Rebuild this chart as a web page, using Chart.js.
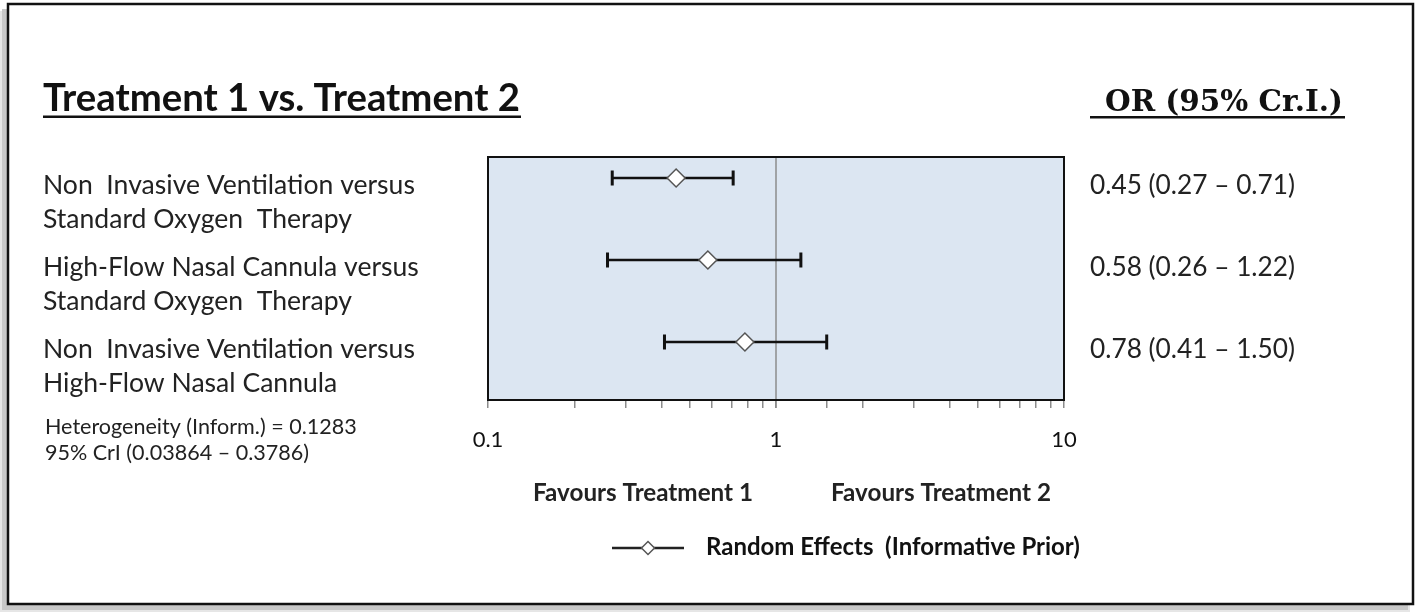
<!DOCTYPE html>
<html lang="en">

<head>
    <meta charset="UTF-8">
    <title>Forest Plot - Treatment 1 vs. Treatment 2</title>
    <style>
        html, body { margin: 0; padding: 0; background: #ffffff; }
        #wrap { width: 1418px; height: 615px; position: relative; }
    </style>
</head>

<body>
    <div id="wrap">
        <canvas id="myChart" width="1418" height="615"></canvas>
    </div>

    <script src="https://cdn.jsdelivr.net/npm/chart.js"></script>

    <script>
        // Data
        const comparisons = [
            ['Non  Invasive Ventilation versus', 'Standard Oxygen  Therapy'],
            ['High-Flow Nasal Cannula versus', 'Standard Oxygen  Therapy'],
            ['Non  Invasive Ventilation versus', 'High-Flow Nasal Cannula']
        ];
        const oddsRatio = [0.45, 0.58, 0.78];
        const lowerCrI = [0.27, 0.26, 0.41];
        const upperCrI = [0.71, 1.22, 1.50];
        const xTickLabels = [0.1, 1, 10];
        const seriesName = 'Random Effects  (Informative Prior)';
        const heterogeneity = ['Heterogeneity (Inform.) = 0.1283', '95% CrI (0.03864 \u2013 0.3786)'];

        const SANS = 'Lato, "Open Sans", sans-serif';
        const SERIF = '"DejaVu Serif", "Liberation Serif", serif';

        // set font size so that text spans the given width
        function fitFont(ctx, text, width, weight, family) {
            ctx.font = weight + ' 100px ' + family;
            const size = 100 * width / ctx.measureText(text).width;
            ctx.font = weight + ' ' + size.toFixed(2) + 'px ' + family;
            return size;
        }

        function orLabel(i) {
            return oddsRatio[i].toFixed(2) + ' (' + lowerCrI[i].toFixed(2) + ' \u2013 ' + upperCrI[i].toFixed(2) + ')';
        }

        // frame, plot background, error bars, texts
        const forestPlugin = {
            id: 'forest',
            beforeDraw(chart) {
                const ctx = chart.ctx;
                const a = chart.chartArea;
                ctx.save();
                ctx.fillStyle = '#ffffff';
                ctx.fillRect(0, 0, chart.width, chart.height);
                // shadow of the outer frame
                ctx.fillStyle = '#e6e6e6';
                ctx.fillRect(0, 11, 1410, 601);
                ctx.fillStyle = '#c8c8c8';
                ctx.fillRect(2, 9, 1406, 601);
                ctx.fillStyle = '#ffffff';
                ctx.fillRect(8, 4, 1405, 600);
                ctx.strokeStyle = '#111';
                ctx.lineWidth = 2.5;
                ctx.strokeRect(8, 4, 1405, 600);
                // plot background
                ctx.fillStyle = '#dce6f2';
                ctx.fillRect(a.left, a.top, a.right - a.left, a.bottom - a.top);
                ctx.restore();
            },
            beforeDatasetsDraw(chart) {
                const ctx = chart.ctx;
                const a = chart.chartArea;
                const xs = chart.scales.x;
                const ys = chart.scales.y;
                ctx.save();
                // line of no effect
                ctx.strokeStyle = '#8c8c8c';
                ctx.lineWidth = 1.5;
                const x1 = xs.getPixelForValue(1);
                ctx.beginPath();
                ctx.moveTo(x1, a.top);
                ctx.lineTo(x1, a.bottom + 8);
                ctx.stroke();
                // credible intervals
                ctx.strokeStyle = '#111';
                oddsRatio.forEach((v, i) => {
                    const y = ys.getPixelForValue(i);
                    const xl = xs.getPixelForValue(lowerCrI[i]);
                    const xr = xs.getPixelForValue(upperCrI[i]);
                    ctx.lineWidth = 2.5;
                    ctx.beginPath();
                    ctx.moveTo(xl, y);
                    ctx.lineTo(xr, y);
                    ctx.stroke();
                    ctx.lineWidth = 3;
                    ctx.beginPath();
                    ctx.moveTo(xl, y - 7.5);
                    ctx.lineTo(xl, y + 7.5);
                    ctx.moveTo(xr, y - 7.5);
                    ctx.lineTo(xr, y + 7.5);
                    ctx.stroke();
                });
                ctx.restore();
            },
            afterDraw(chart) {
                const ctx = chart.ctx;
                const a = chart.chartArea;
                const ys = chart.scales.y;
                ctx.save();
                // plot border
                ctx.strokeStyle = '#111';
                ctx.lineWidth = 2;
                ctx.strokeRect(a.left, a.top, a.right - a.left, a.bottom - a.top);

                ctx.fillStyle = '#111';
                ctx.textBaseline = 'alphabetic';
                ctx.textAlign = 'left';

                // title + header
                fitFont(ctx, 'Treatment 1 vs. Treatment 2', 477, 'bold', SANS);
                ctx.fillText('Treatment 1 vs. Treatment 2', 43, 111);
                ctx.fillRect(43, 115.5, 478, 2.5);
                fitFont(ctx, 'OR (95% Cr.I.)', 238, 'bold', SERIF);
                ctx.fillText('OR (95% Cr.I.)', 1105, 111);
                ctx.fillRect(1090, 116, 255, 2.5);

                // row labels
                ctx.fillStyle = '#222';
                fitFont(ctx, comparisons[0][0], 372, 'normal', SANS);
                comparisons.forEach((lines, i) => {
                    const y = ys.getPixelForValue(i);
                    ctx.fillText(lines[0], 43, y + 16);
                    ctx.fillText(lines[1], 43, y + 50);
                });
                fitFont(ctx, orLabel(0), 205, 'normal', SANS);
                oddsRatio.forEach((v, i) => {
                    ctx.fillText(orLabel(i), 1090, ys.getPixelForValue(i) + 16);
                });

                // heterogeneity
                fitFont(ctx, heterogeneity[0], 312, 'normal', SANS);
                ctx.fillText(heterogeneity[0], 45, 434);
                ctx.fillText(heterogeneity[1], 45, 460);

                // favours labels
                ctx.textAlign = 'center';
                fitFont(ctx, 'Favours Treatment 1', 220, 'bold', SANS);
                ctx.fillText('Favours Treatment 1', 643, 501);
                ctx.fillText('Favours Treatment 2', 941, 501);

                // legend
                const ly = 548;
                ctx.strokeStyle = '#222';
                ctx.lineWidth = 2.5;
                ctx.beginPath();
                ctx.moveTo(612, ly);
                ctx.lineTo(684, ly);
                ctx.stroke();
                ctx.fillStyle = '#fff';
                ctx.strokeStyle = '#555';
                ctx.lineWidth = 1.5;
                ctx.beginPath();
                ctx.moveTo(648, ly - 6.5);
                ctx.lineTo(654.5, ly);
                ctx.lineTo(648, ly + 6.5);
                ctx.lineTo(641.5, ly);
                ctx.closePath();
                ctx.fill();
                ctx.stroke();
                ctx.fillStyle = '#111';
                ctx.textAlign = 'left';
                fitFont(ctx, seriesName, 374, 'bold', SANS);
                ctx.fillText(seriesName, 706, 555);
                ctx.restore();
            }
        };

        const ctx = document.getElementById('myChart').getContext('2d');
        const myChart = new Chart(ctx, {
            type: 'scatter',
            data: {
                datasets: [{
                    label: seriesName,
                    data: oddsRatio.map((v, i) => ({ x: v, y: i })),
                    pointStyle: 'rectRot',
                    pointRadius: 9,
                    pointHoverRadius: 9,
                    backgroundColor: '#ffffff',
                    borderColor: '#555555',
                    borderWidth: 1.5
                }]
            },
            options: {
                responsive: false,
                animation: false,
                layout: {
                    padding: { left: 488, right: 354, top: 157, bottom: 145 }
                },
                plugins: {
                    legend: { display: false },
                    tooltip: { enabled: false }
                },
                scales: {
                    x: {
                        type: 'logarithmic',
                        min: 0.1,
                        max: 10,
                        afterFit: s => { s.height = 70; },
                        border: { display: false },
                        grid: {
                            drawOnChartArea: false,
                            drawTicks: true,
                            tickLength: 8,
                            color: '#8c8c8c',
                            lineWidth: 1.5
                        },
                        ticks: {
                            autoSkip: false,
                            maxRotation: 0,
                            padding: 19,
                            color: '#111',
                            font: { family: 'Lato', size: 22 },
                            callback: v => {
                                const hit = xTickLabels.find(t => Math.abs(t - v) < 1e-9);
                                return hit !== undefined ? String(hit) : '';
                            }
                        }
                    },
                    y: {
                        type: 'linear',
                        display: false,
                        reverse: true,
                        min: -0.256,
                        max: 2.707
                    }
                }
            },
            plugins: [forestPlugin]
        });
    </script>

</body>

</html>
